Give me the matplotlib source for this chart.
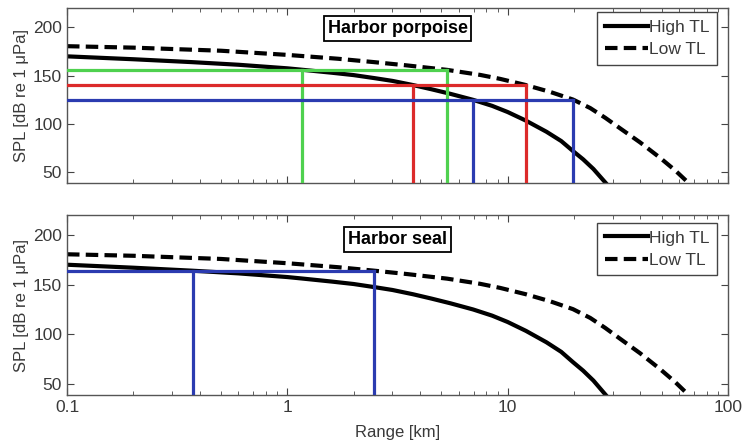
import matplotlib.pyplot as plt
from matplotlib.ticker import FixedLocator, NullFormatter

plt.rcParams['font.family'] = ['Liberation Sans', 'DejaVu Sans']

# received level vs range for the two transmission-loss cases
r_high = [0.1, 0.2, 0.37, 0.6, 1.0, 1.17, 1.6, 2.0, 2.48, 3.0, 3.72, 4.5, 5.5, 6.97,
          8.5, 10, 12.1, 15, 17.5, 19.8, 22, 24.5, 28]
spl_high = [170, 167, 164, 161.3, 157.6, 156.1, 153, 150.6, 147.5, 144.6, 140.3, 136, 131.2, 125,
            118.8, 112.4, 103.5, 92, 82.4, 72, 63.5, 53.5, 38.5]

r_low = [0.1, 0.2, 0.5, 1.0, 1.7, 2.48, 3.5, 5.31, 7.5, 9.24, 12.1, 15.6, 19.8,
         23.7, 27.7, 32.4, 39.9, 49.2, 57.6, 66.6]
spl_low = [180.5, 179, 175.8, 171.5, 167.5, 164, 160.6, 156, 150.8, 146.7, 140.3, 133.2, 125.3,
           116.5, 106.5, 95.5, 81, 65, 52, 38.5]

# thresholds: level, range for high TL, range for low TL
porpoise_levels = [156, 140, 125]
porpoise_r_high = [1.17, 3.72, 6.97]
porpoise_r_low = [5.31, 12.1, 19.8]
porpoise_colors = ['#4fd14f', '#dc2a2a', '#2b3bb0']

seal_levels = [164]
seal_r_high = [0.373]
seal_r_low = [2.48]
seal_colors = ['#2b3bb0']

W, H = 744, 442
fig = plt.figure(figsize=(W / 100, H / 100), dpi=100)
ax1 = fig.add_axes([67 / W, 1 - 183 / H, 661 / W, 175 / H])
ax2 = fig.add_axes([67 / W, 1 - 395 / H, 661 / W, 180 / H])

ylo = 39
panels = [
    (ax1, 'Harbor porpoise', 0.883, 0.977, porpoise_levels, porpoise_r_high, porpoise_r_low, porpoise_colors),
    (ax2, 'Harbor seal', 0.862, 0.958, seal_levels, seal_r_high, seal_r_low, seal_colors),
]
for ax, title, ty, ly, levels, rh, rl, cols in panels:
    ax.set_xscale('log')
    ax.plot(r_high, spl_high, color='black', lw=3, label='High TL', zorder=2)
    ax.plot(r_low, spl_low, color='black', lw=3, ls=(0, (3, 1.5)), label='Low TL', zorder=2)
    for lev, a, b, c in zip(levels, rh, rl, cols):
        ax.plot([0.1, b], [lev, lev], color=c, lw=2.3, zorder=3)
        ax.plot([a, a], [ylo, lev], color=c, lw=2.3, zorder=3)
        ax.plot([b, b], [ylo, lev], color=c, lw=2.3, zorder=3)
    ax.set_xlim(0.1, 100)
    ax.set_ylim(ylo, 220)
    ax.yaxis.set_major_locator(FixedLocator([50, 100, 150, 200]))
    ax.tick_params(which='both', direction='in', top=True, right=True,
                   labelsize=12.5, colors='#444444', labelcolor='#3a3a3a')
    ax.tick_params(which='major', length=5)
    ax.tick_params(which='minor', length=3)
    for s in ax.spines.values():
        s.set_color('#555555')
        s.set_linewidth(1.0)
    ax.set_ylabel('SPL [dB re 1 \u03bcPa]', fontsize=12, color='#3a3a3a', labelpad=3)
    ax.text(0.5, ty, title, transform=ax.transAxes, ha='center', va='center',
            fontsize=13, fontweight='bold',
            bbox=dict(boxstyle='square,pad=0.22', fc='white', ec='black', lw=1.3))
    leg = ax.legend(loc='upper right', fontsize=12.5, handlelength=2.5, handletextpad=0.05,
                    borderpad=0.45, labelspacing=0.4, borderaxespad=0, fancybox=False,
                    framealpha=1, bbox_to_anchor=(0.984, ly))
    leg.get_frame().set_edgecolor('#444444')
    leg.get_frame().set_linewidth(1.0)
    for t in leg.get_texts():
        t.set_color('#3a3a3a')

ax1.xaxis.set_major_formatter(NullFormatter())
ax1.xaxis.set_minor_formatter(NullFormatter())
ax2.set_xticks([0.1, 1, 10, 100])
ax2.set_xticklabels(['0.1', '1', '10', '100'])
ax2.xaxis.set_minor_formatter(NullFormatter())
ax2.set_xlabel('Range [km]', fontsize=12, color='#3a3a3a', labelpad=7)

fig.savefig('out.png', dpi=100)
